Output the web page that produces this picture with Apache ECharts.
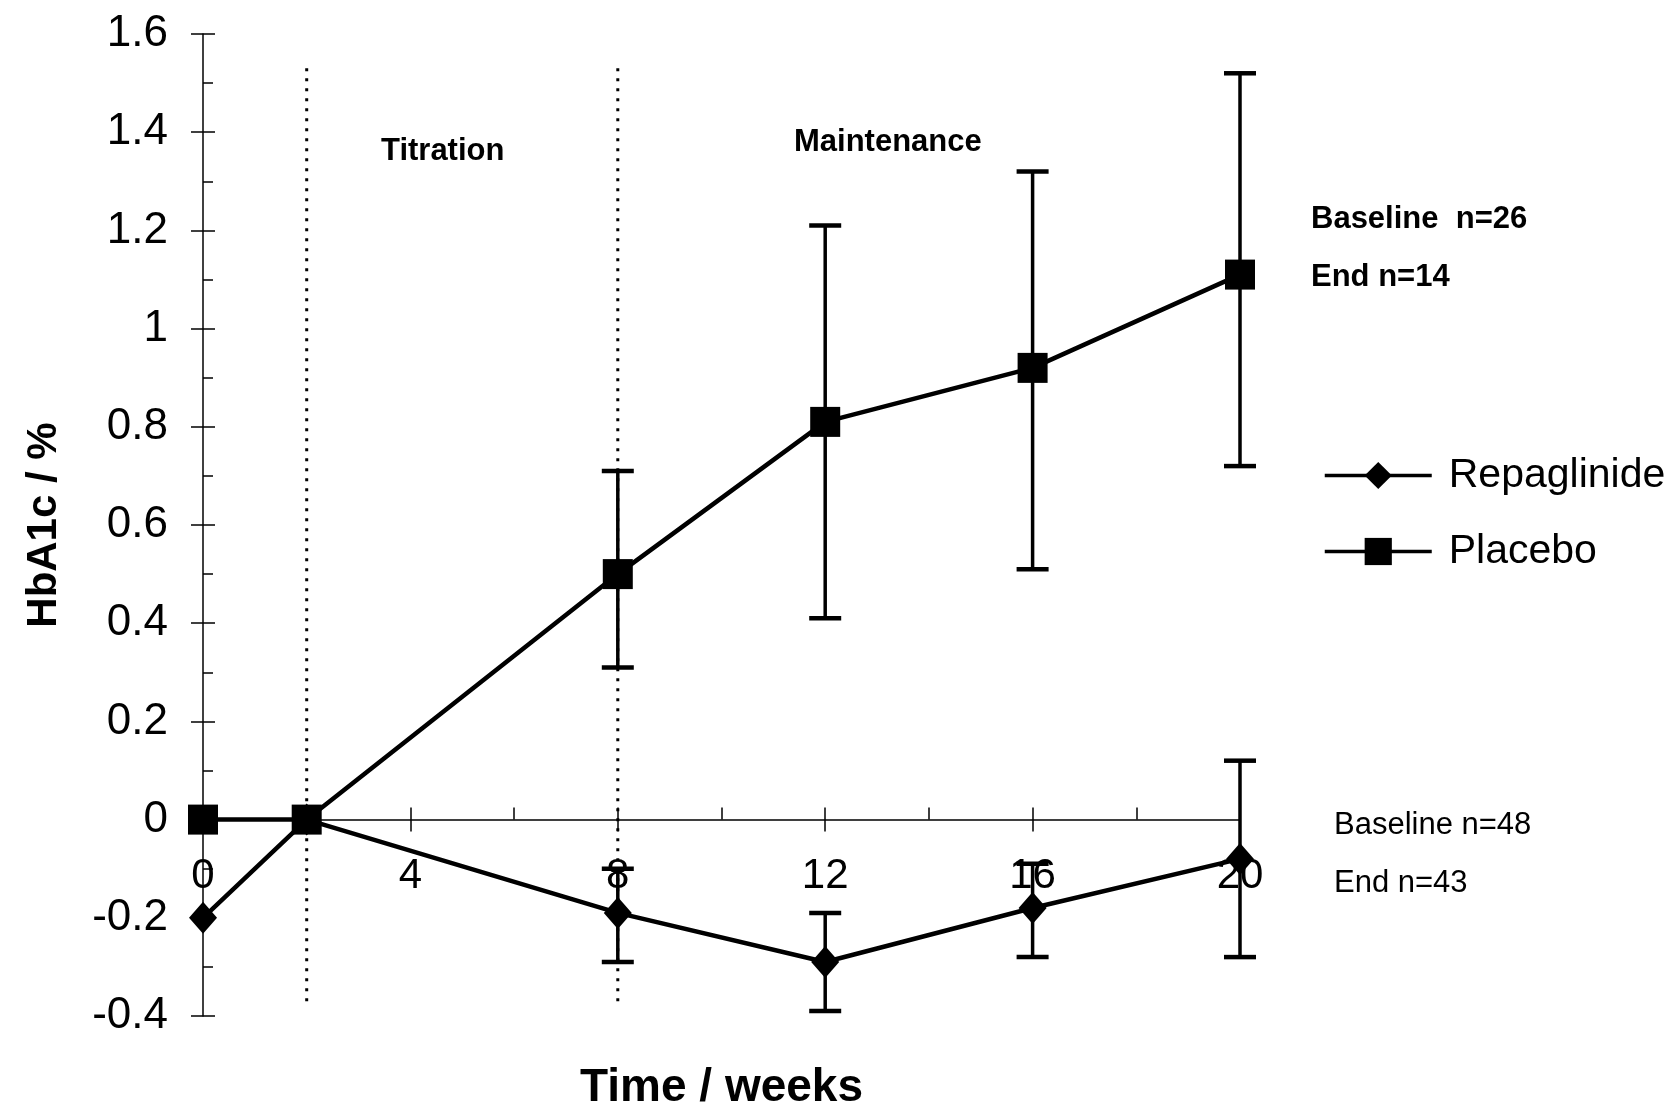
<!DOCTYPE html>
<html>
<head>
<meta charset="utf-8">
<script src="https://cdn.jsdelivr.net/npm/echarts@6/dist/echarts.min.js"></script>
<style>
  html, body { margin: 0; padding: 0; background: #fff; }
  #chart { width: 1674px; height: 1110px; }
</style>
</head>
<body>
<div id="chart"></div>
<script>
// weeks of measurement
const weeks = [0, 2, 8, 12, 16, 20];
// mean change in HbA1c (%)
const repaglinide = [-0.2, 0, -0.19, -0.29, -0.18, -0.08];
const repaglinideLow = [null, null, -0.29, -0.39, -0.28, -0.28];
const repaglinideHigh = [null, null, -0.1, -0.19, -0.09, 0.12];
const placebo = [0, 0, 0.5, 0.81, 0.92, 1.11];
const placeboLow = [null, null, 0.31, 0.41, 0.51, 0.72];
const placeboHigh = [null, null, 0.71, 1.21, 1.32, 1.52];
// dotted lines between phases
const phaseWeeks = [2, 8];
const phaseSpan = [-0.37, 1.54];

const yMin = -0.4;
const yMax = 1.6;

const black = '#000';
const sans = "'Liberation Sans', Arial, Helvetica, sans-serif";

// plot area
const gridTop = 34;
const gridBottom = 94;
const gridHeight = 1110 - gridTop - gridBottom;
// shift the x axis up from the bottom of the grid to y = 0
const zeroOffset = -gridHeight * (0 - yMin) / (yMax - yMin);

function pairs (ys) {
  return weeks.map((w, i) => [w, ys[i]]);
}

function errorBars (name, low, high) {
  let data = [];
  weeks.forEach((w, i) => {
    if (low[i] !== null) data.push([w, low[i], high[i]]);
  });
  return {
    name: name,
    type: 'custom',
    silent: true,
    z: 3,
    renderItem: (params, api) => {
      const x = api.value(0);
      const lo = api.coord([x, api.value(1)]);
      const hi = api.coord([x, api.value(2)]);
      const cap = 16;
      const capStyle = { stroke: black, lineWidth: 4.5 };
      return {
        type: 'group',
        children: [
          { type: 'line', shape: { x1: lo[0], y1: lo[1], x2: hi[0], y2: hi[1] }, style: { stroke: black, lineWidth: 3.5 } },
          { type: 'line', shape: { x1: lo[0] - cap, y1: lo[1], x2: lo[0] + cap, y2: lo[1] }, style: capStyle },
          { type: 'line', shape: { x1: hi[0] - cap, y1: hi[1], x2: hi[0] + cap, y2: hi[1] }, style: capStyle }
        ]
      };
    },
    data: data
  };
}

let series = [];
phaseWeeks.forEach((w, i) => {
  series.push({
    name: 'phase' + i,
    type: 'line',
    silent: true,
    symbol: 'none',
    lineStyle: { color: black, width: 3, type: [3, 7] },
    data: [[w, phaseSpan[0]], [w, phaseSpan[1]]],
    z: 1
  });
});
series.push(errorBars('repaglinideErr', repaglinideLow, repaglinideHigh));
series.push(errorBars('placeboErr', placeboLow, placeboHigh));
series.push({
  name: 'Repaglinide',
  type: 'line',
  symbol: 'diamond',
  symbolSize: [28, 32],
  itemStyle: { color: black },
  lineStyle: { color: black, width: 4.5 },
  data: pairs(repaglinide),
  z: 4
});
series.push({
  name: 'Placebo',
  type: 'line',
  symbol: 'rect',
  symbolSize: 30,
  itemStyle: { color: black },
  lineStyle: { color: black, width: 4.5 },
  data: pairs(placebo),
  z: 5
});

const textBold = { fill: black, font: 'bold 31px ' + sans };
const textNorm = { fill: black, font: '31px ' + sans };

let myChart = echarts.init(document.getElementById('chart'));
myChart.setOption({
  backgroundColor: '#fff',
  animation: false,
  grid: { left: 203, right: 434, top: gridTop, bottom: gridBottom, containLabel: false, outerBoundsMode: 'none' },
  legend: {
    data: ['Repaglinide', 'Placebo'],
    orient: 'vertical',
    left: 1318,
    top: 450,
    itemWidth: 107,
    itemHeight: 34,
    itemGap: 35,
    lineStyle: { width: 3.5 },
    textStyle: { fontFamily: sans, fontSize: 41, color: black, padding: [0, 0, 0, 12] }
  },
  xAxis: [
    {
      type: 'value',
      min: 0,
      max: 20,
      interval: 4,
      position: 'bottom',
      offset: zeroOffset,
      name: 'Time / weeks',
      nameLocation: 'middle',
      nameGap: 246,
      nameTextStyle: { fontFamily: sans, fontWeight: 'bold', fontSize: 46, color: black },
      axisLine: { onZero: false, lineStyle: { color: black, width: 1.5 } },
      axisTick: { inside: false, length: 12, lineStyle: { color: black, width: 1.5 } },
      axisLabel: { margin: 36, fontFamily: sans, fontSize: 42, color: black },
      splitLine: { show: false }
    },
    {
      type: 'value',
      min: 0,
      max: 20,
      interval: 4,
      position: 'bottom',
      offset: zeroOffset,
      axisLine: { show: false, onZero: false },
      axisTick: { inside: true, length: 12, lineStyle: { color: black, width: 1.5 } },
      minorTick: { show: true, splitNumber: 2, length: 12, lineStyle: { color: black, width: 1.5 } },
      axisLabel: { show: false },
      splitLine: { show: false }
    }
  ],
  yAxis: [
    {
      type: 'value',
      min: yMin,
      max: yMax,
      interval: 0.2,
      name: 'HbA1c / %',
      nameLocation: 'middle',
      nameGap: 138,
      nameTextStyle: { fontFamily: sans, fontWeight: 'bold', fontSize: 42, color: black },
      axisLine: { onZero: false, lineStyle: { color: black, width: 1.5 } },
      axisTick: { inside: false, length: 12, lineStyle: { color: black, width: 1.5 } },
      axisLabel: { margin: 35, fontFamily: sans, fontSize: 44, color: black },
      splitLine: { show: false }
    },
    {
      type: 'value',
      min: yMin,
      max: yMax,
      interval: 0.2,
      position: 'left',
      axisLine: { show: false, onZero: false },
      axisTick: { inside: true, length: 12, lineStyle: { color: black, width: 1.5 } },
      minorTick: { show: true, splitNumber: 2, length: 10, lineStyle: { color: black, width: 1.5 } },
      axisLabel: { show: false },
      splitLine: { show: false }
    }
  ],
  graphic: [
    { type: 'text', left: 381, top: 136, style: Object.assign({ text: 'Titration' }, textBold) },
    { type: 'text', left: 794, top: 127, style: Object.assign({ text: 'Maintenance' }, textBold) },
    { type: 'text', left: 1311, top: 204, style: Object.assign({ text: 'Baseline  n=26' }, textBold) },
    { type: 'text', left: 1311, top: 262, style: Object.assign({ text: 'End n=14' }, textBold) },
    { type: 'text', left: 1334, top: 810, style: Object.assign({ text: 'Baseline n=48' }, textNorm) },
    { type: 'text', left: 1334, top: 868, style: Object.assign({ text: 'End n=43' }, textNorm) }
  ],
  series: series
});
</script>
</body>
</html>
